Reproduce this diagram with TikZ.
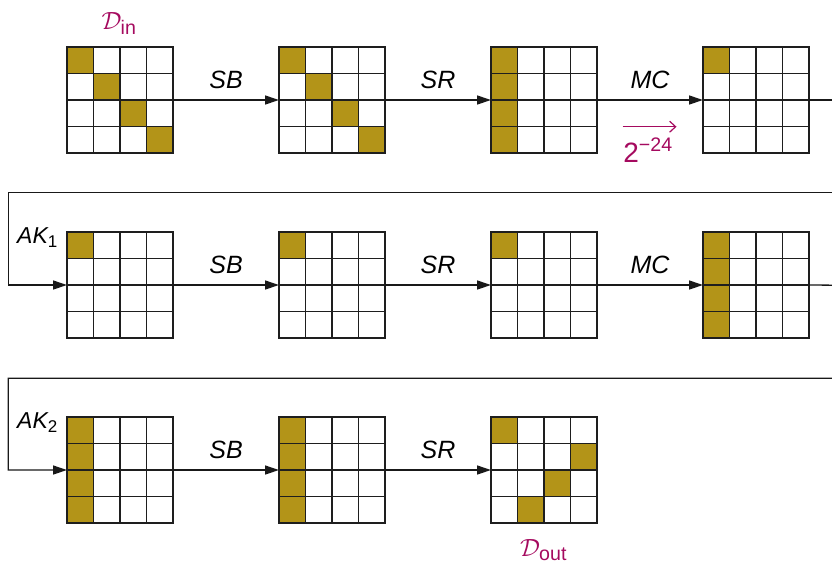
\documentclass[tikz,border=0pt]{standalone}
\usepackage{amsmath}
\usepackage{fontspec}
\setmainfont{Liberation Sans}
\usetikzlibrary{arrows.meta}
\definecolor{gold}{RGB}{179,148,24}
\definecolor{mag}{RGB}{165,10,95}
\definecolor{gridc}{RGB}{30,30,30}
\tikzset{
  gridbox/.style={minimum size=106pt, inner sep=0pt, outer sep=0pt, draw=none},
  cellline/.style={draw=gridc, line width=1.6pt, line cap=rect},
  flow/.style={draw=black!90, line width=1.3pt, -{Triangle[length=14pt,width=9pt]}},
  oplabel/.style={font=\fontsize{25}{30}\selectfont\itshape, anchor=base, inner sep=0pt},
  aklabel/.style={font=\fontsize{23}{28}\selectfont, anchor=base east, inner sep=0pt},
  maglabel/.style={font=\fontsize{28}{34}\selectfont, text=mag, inner sep=0pt, anchor=base},
  probarrow/.style={draw=mag, line width=1.2pt, -{Straight Barb[length=6pt,width=11pt]}},
}
\newcommand\mygrid[4]{%
  \node[gridbox] (#1) at ({#2+53},{#3+53}) {};
  \foreach \c/\r in {#4} {\fill[gold] ({#2+\c*26.5},{#3+\r*26.5}) rectangle ++(26.5,26.5);}
  \foreach \i in {0,...,4} {
    \draw[cellline] ({#2+\i*26.5},#3) -- ++(0,106);
    \draw[cellline] (#2,{#3+\i*26.5}) -- ++(106,0);
  }%
}
\newcommand\aksub[1]{\text{\fontsize{17}{17}\selectfont #1}}
\begin{document}
\begin{tikzpicture}[x=1pt,y=-1pt]
\useasboundingbox (0,0) rectangle (832,565);
\clip (0,0) rectangle (832,565);
% row 1
\mygrid{g11}{67}{47}{0/0,1/1,2/2,3/3}
\mygrid{g12}{279}{47}{0/0,1/1,2/2,3/3}
\mygrid{g13}{491}{47}{0/0,0/1,0/2,0/3}
\mygrid{g14}{703}{47}{0/0}
% row 2
\mygrid{g21}{67}{232}{0/0}
\mygrid{g22}{279}{232}{0/0}
\mygrid{g23}{491}{232}{0/0}
\mygrid{g24}{703}{232}{0/0,0/1,0/2,0/3}
% row 3
\mygrid{g31}{67}{417}{0/0,0/1,0/2,0/3}
\mygrid{g32}{279}{417}{0/0,0/1,0/2,0/3}
\mygrid{g33}{491}{417}{0/0,3/1,2/2,1/3}

\node[maglabel] (din) at (119,29.3) {$\mathcal{D}_{\text{in}}$};
\node[maglabel] (dout) at (543.5,556.7) {$\mathcal{D}_{\text{out}}$};

% row 1 arrows
\draw[flow] (g11.east) -- (g12.west) node[oplabel, midway, yshift=11.7pt] {SB};
\draw[flow] (g12.east) -- (g13.west) node[oplabel, midway, yshift=11.7pt] {SR};
\draw[flow] (g13.east) -- (g14.west) node[oplabel, midway, yshift=11.7pt] {MC};
\node[maglabel] (prob) at (648,162.7) {$\text{2}^{\text{−24}}$};
\coordinate (pa) at (622.7,126.7);
\coordinate (pb) at (676.5,126.7);
\draw[probarrow] (pa) -- (pb);

% feedback 1
\coordinate (c1) at (850,100);
\coordinate (t1) at (8.3,192.7);
\draw[flow] (g14.east) -- (c1) |- (t1) |- (g21.west);
\node[aklabel] (ak1) at (58,243.3) {$\textit{AK}_{\aksub{1}}$};

% row 2 arrows
\draw[flow] (g21.east) -- (g22.west) node[oplabel, midway, yshift=11.7pt] {SB};
\draw[flow] (g22.east) -- (g23.west) node[oplabel, midway, yshift=11.7pt] {SR};
\draw[flow] (g23.east) -- (g24.west) node[oplabel, midway, yshift=11.7pt] {MC};

% feedback 2
\coordinate (c2) at (850,285.3);
\coordinate (t2) at (8.3,378.3);
\draw[flow] (g24.east) -- (c2) |- (t2) |- (g31.west);
\node[aklabel] (ak2) at (58,428.3) {$\textit{AK}_{\aksub{2}}$};

% row 3 arrows
\draw[flow] (g31.east) -- (g32.west) node[oplabel, midway, yshift=11.7pt] {SB};
\draw[flow] (g32.east) -- (g33.west) node[oplabel, midway, yshift=11.7pt] {SR};
\end{tikzpicture}
\end{document}
